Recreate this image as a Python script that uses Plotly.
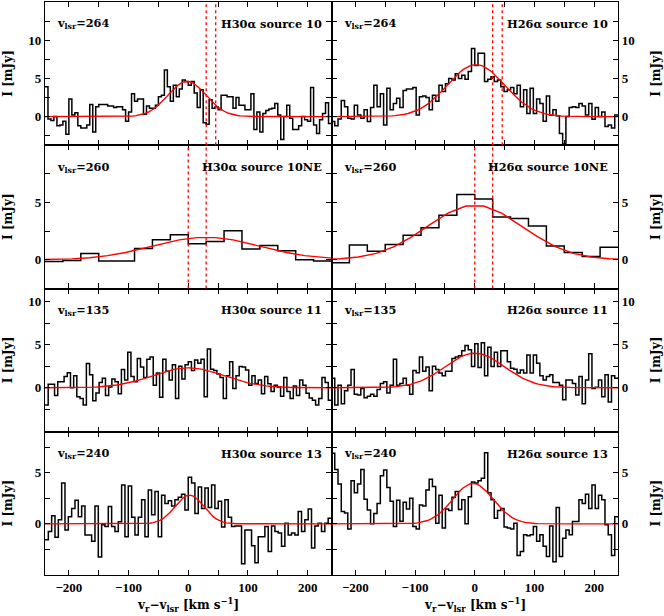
import numpy as np
import plotly.graph_objects as go
from plotly.subplots import make_subplots

V_RANGE = [-240, 240]

# ---- spectra (mJy), channels evenly spaced across -240..240 km/s ----
h30_src10 = [3.9, -0.3, -0.5, 0.0, -1.2, -1.1, -0.6, -2.3, 2.3, 0.2, 0.5, -1.2, -1.5, -1.5, -1.1, 1.6,
             -2.0, 1.3, 1.6, 1.6, 1.6, 1.4, 1.4, 1.2, 1.3, 1.3, 0.9, -0.6, 0.6, 3.0, 2.0, 2.3, 2.3, 0.3,
             1.4, 1.1, 1.1, 1.5, 2.6, 2.8, 6.1, 3.9, 2.0, 4.1, 2.6, 3.6, 4.8, 4.6, 4.1, 4.6, 3.1, 1.2,
             3.5, -0.8, -1.0, 2.2, 1.1, 1.3, 0.9, 2.8, 2.8, 2.6, 2.6, 1.1, 2.5, 1.5, 1.5, 0.9, 0.9, 3.0,
             -1.7, 0.6, -2.0, 0.4, 0.8, 1.0, 1.1, 1.7, 0.2, -3.0, 0.0, 1.5, -0.2, -1.7, -1.7, -1.2, 0.0,
             -0.4, -0.6, 3.8, -1.1, -2.2, -0.4, 0.4, 1.8, -0.9]
h26_src10 = [-0.65, -1.2, -0.3, 2.1, 1.3, -0.2, -0.3, 1.5, 0.2, -0.2, 0.9, -0.65, 1.2, 4.1, 1.3, 3.0,
             -1.1, 3.7, 0.9, 1.7, 2.4, 1.2, 3.4, 3.6, 3.6, 3.8, 0.2, 2.6, 2.7, 2.5, 0.9, 2.8, 2.0, 4.1,
             3.3, 4.3, 5.0, 4.8, 5.6, 5.0, 5.4, 4.9, 5.9, 8.9, 6.7, 8.3, 8.3, 4.6, 4.9, 5.2, 4.6, 4.8,
             3.9, 3.3, 3.5, 3.8, 3.0, 4.1, 1.3, 3.5, 0.4, 3.7, 0.4, 2.3, 1.7, -0.6, 2.7, 0.2, 0.9, 0.1,
             -2.2, -3.6, 0.0, 1.2, 1.3, 1.2, 1.7, 1.4, 0.2, 1.7, -0.35, 1.2, 0.0, 0.6, -1.3, -1.1, -1.5, 0.2]
h30_src10ne = [-0.15, -0.05, 0.55, -0.1, -0.1, 1.0, 1.75, 2.2, 1.4, 1.6, 2.55, 0.95, 1.25, 0.8, 0.0, -0.1]
h26_src10ne = [-0.25, 1.3, 0.75, 1.35, 2.15, 2.8, 3.9, 5.7, 5.3, 3.75, 3.6, 2.95, 1.2, 0.65, 0.3, 1.1]
h30_src11 = [-2.0, 0.4, 0.4, -0.9, 0.7, 0.7, 1.3, 1.75, 0.0, 1.4, -1.05, -1.25, -2.0, 2.8, 1.5, -1.5,
             -0.6, 0.6, 1.1, -0.9, 0.1, 1.0, 0.7, -0.7, 2.1, 0.9, 4.1, 1.3, 0.7, 3.4, 2.4, 1.2, 3.3,
             3.55, 0.3, 1.7, -1.1, 3.3, 1.9, 0.9, 2.65, -1.25, 2.5, 1.0, 2.65, 3.0, 2.0, 3.2, 2.85, 3.3,
             -1.05, 4.5, 2.15, 2.0, 1.6, 1.2, -1.25, 1.4, 3.0, -0.1, 1.4, 2.45, 2.4, 2.05, 0.3, 1.4, 0.5,
             0.9, -0.7, 1.3, 0.45, -0.45, 0.3, 0.05, -1.0, 1.2, -0.45, -1.25, 0.2, -0.9, 0.9, 0.3, -0.65,
             -1.2, -1.45, -2.0, -1.25, 1.2, 0.6, -1.45]
h26_src11 = [1.1, -2.0, 0.3, -1.85, -0.35, 0.3, 2.1, -0.75, -0.85, -0.1, -1.15, -1.0, -0.75, -1.0, -0.2,
             0.5, 0.7, -0.6, 0.3, 3.3, 0.3, 0.5, 1.1, 0.3, -0.75, 2.0, 1.75, 3.55, 1.9, 2.4, -0.35, 2.5,
             2.1, 1.7, 1.4, 1.9, 1.9, 3.4, 3.55, 3.7, 4.3, 4.9, 4.4, 2.45, 5.1, 2.35, 5.2, 1.4, 4.7, 2.45,
             4.1, 2.45, 4.3, 4.3, 3.0, 2.25, 2.15, 1.7, 2.05, 1.7, 3.8, 1.7, 3.8, 2.85, 1.4, 0.9, 1.3, 1.5,
             0.6, 0.6, 0.3, -1.4, 0.9, 0.9, 0.5, -0.85, 1.3, -1.85, 0.9, 3.95, -0.1, 0.05, 0.9, -1.05, 1.5,
             -1.65, 1.4, 1.1]
h30_src13 = [-1.55, -0.75, 0.8, -1.3, 0.4, 4.0, -0.6, 0.7, 1.5, 2.3, 0.7, 1.75, -1.1, -1.1, -1.7, 1.75,
             -3.25, -0.1, -0.25, 1.7, -0.25, -0.75, 0.2, 3.8, -1.25, 3.7, 0.65, -1.1, 0.65, 2.35, -1.25,
             3.3, 0.9, 3.15, -1.25, 2.8, 2.0, 2.25, 1.75, 2.35, 2.6, 2.9, 1.35, 4.55, 4.0, 1.0, 3.6, 1.5,
             3.5, 1.6, 3.8, 1.5, 2.2, -0.3, 2.35, 0.65, -0.25, -0.2, -0.2, -3.9, -0.6, -0.6, -2.15, -3.8,
             -1.25, -1.25, -0.25, -2.7, -0.2, -0.75, -0.9, -2.2, 0.05, -1.1, -0.9, -1.1, 1.2, -0.75, 0.4,
             1.45, -2.35, -0.2, 0.05, -0.75, 0.05, 0.55]
h26_src13 = [6.9, 5.3, 3.9, 1.2, 1.05, -0.5, 4.2, 3.05, 3.9, 5.3, 2.4, 1.35, 0.0, 1.0, 2.0, 4.7, 5.25,
             3.55, 2.2, -0.25, 2.3, 0.25, 2.1, 1.45, 2.5, -0.25, -0.5, 1.85, 1.75, 3.3, 4.35, 3.65, 0.05,
             2.8, -0.4, 1.45, 1.3, 2.6, 3.15, 1.4, 2.35, 0.0, 2.65, 4.1, 4.0, 4.2, 4.45, 6.95, 3.05, 2.35,
             0.55, 1.3, 1.5, -0.3, -0.4, -0.5, 0.05, -3.1, -2.7, -1.07, -1.17, -1.07, -0.25, -1.7, -1.07,
             -2.2, -3.2, -0.2, -3.7, 1.6, -3.2, -1.4, -0.6, -1.07, 0.23, 0.23, 2.35, 2.0, 2.9, 1.5, 3.8,
             1.5, 2.8, 2.35, -0.1, -1.07, -3.1, 0.7]

# ---- Gaussian fits: (peak mJy, centre km/s, sigma km/s) ----
fit_h30_src10 = (4.6, -2, 32)
fit_h26_src10 = (6.8, 2, 48)
fit_h30_src10ne = (1.97, 30, 90)
fit_h26_src10ne = (4.78, 0, 80)
fit_h30_src11 = (2.3, 0, 60)
fit_h26_src11 = (4.0, 0, 50)
fit_h30_src13 = (2.8, 2, 24)
fit_h26_src13 = (3.95, -3, 34)

sources = ["10", "10NE", "11", "13"]
vlsr = [264, 260, 135, 240]
lines = ["H30&#945;", "H26&#945;"]
marker_vel = [[30, 46], [0, 30], [], []]

spectra = [[h30_src10, h26_src10], [h30_src10ne, h26_src10ne],
           [h30_src11, h26_src11], [h30_src13, h26_src13]]
fits = [[fit_h30_src10, fit_h26_src10], [fit_h30_src10ne, fit_h26_src10ne],
        [fit_h30_src11, fit_h26_src11], [fit_h30_src13, fit_h26_src13]]

y_ranges = [[-3.75, 15], [-2.5, 10], [-5.1, 11.5], [-5, 9]]
y_labels = [[0, 5, 10], [0, 5], [0, 5, 10], [0, 5]]
x_ticks = [-200, -100, 0, 100, 200]
x_labels = ["\u2212200", "\u2212100", "0", "100", "200"]

TXT = dict(family="DejaVu Serif", size=12, color="black", weight="bold")
LBL = dict(family="DejaVu Serif", size=11.3, color="black", weight="bold")
TICK = dict(family="Liberation Serif", size=13, color="black", weight="bold")
fig = make_subplots(rows=4, cols=2, horizontal_spacing=0, vertical_spacing=0)

for r in range(4):
    for c in range(2):
        vals = spectra[r][c]
        n = len(vals)
        edges = np.linspace(V_RANGE[0], V_RANGE[1], n + 1)
        xs = list(edges)
        ys = list(vals) + [vals[-1]]
        fig.add_trace(go.Scatter(x=xs, y=ys, mode="lines", line=dict(color="black", width=1.5, shape="hv"),
                                 hoverinfo="skip"), row=r + 1, col=c + 1)
        w = edges[1] - edges[0]
        centres = np.concatenate([[edges[0] - w / 2], (edges[:-1] + edges[1:]) / 2, [edges[-1] + w / 2]])
        a, mu, sg = fits[r][c]
        model = a * np.exp(-(centres - mu) ** 2 / (2 * sg ** 2))
        fig.add_trace(go.Scatter(x=centres, y=model, mode="lines", line=dict(color="#ff0000", width=1.4),
                                 hoverinfo="skip"), row=r + 1, col=c + 1)
        k = r * 2 + c + 1
        xr = "x" if k == 1 else f"x{k}"
        yr = "y" if k == 1 else f"y{k}"
        for mv in marker_vel[r]:
            fig.add_shape(type="line", x0=mv, x1=mv, y0=0, y1=1, xref=xr, yref=f"{yr} domain",
                          line=dict(color="#ff0000", width=1.3, dash="3px,3px"))
        fig.add_annotation(text=f"v<sub>lsr</sub>={vlsr[r]}", xref=f"{xr} domain", yref=f"{yr} domain",
                           x=0.035, y=1 - 22 / 143.3, xanchor="left", yanchor="middle", showarrow=False,
                           font=LBL)
        fig.add_annotation(text=f"{lines[c]} source {sources[r]}", xref=f"{xr} domain", yref=f"{yr} domain",
                           x=1 - 8 / 286.5, y=1 - 22 / 143.3, xanchor="right", yanchor="middle",
                           showarrow=False, font=LBL)
        fig.add_annotation(text="I [mJy]", xref="paper", yref=f"{yr} domain",
                           x=(8 - 45) / 573 if c == 0 else (656 - 45) / 573, y=0.5,
                           xanchor="center", yanchor="middle", textangle=-90, showarrow=False,
                           font=TXT)
        fig.update_xaxes(range=V_RANGE, tickvals=x_ticks, ticktext=x_labels,
                         showticklabels=(r == 3), ticks="inside", ticklen=5, tickwidth=1.3, tickcolor="black",
                         minor=dict(dtick=50, tick0=0, ticks="inside", ticklen=5, tickwidth=1.3, tickcolor="black"),
                         showline=True, linecolor="black", linewidth=1.4, mirror="allticks",
                         showgrid=False, zeroline=False, tickfont=TICK,
                         row=r + 1, col=c + 1)
        fig.update_yaxes(range=y_ranges[r], tickvals=y_labels[r], ticktext=[str(v) for v in y_labels[r]],
                         side="left" if c == 0 else "right", ticks="inside", ticklen=5, tickwidth=1.3,
                         tickcolor="black",
                         minor=dict(dtick=2.5, tick0=0, ticks="inside", ticklen=5, tickwidth=1.3, tickcolor="black"),
                         showline=True, linecolor="black", linewidth=1.4, mirror="allticks",
                         showgrid=False, zeroline=False, tickfont=TICK,
                         row=r + 1, col=c + 1)

for c in range(2):
    k = 6 + c + 1
    fig.add_annotation(text="v<sub>r</sub>\u2212v<sub>lsr</sub> [km s<sup>\u22121</sup>]",
                       xref=f"x{k} domain", yref="paper", x=0.5, y=-30 / 573,
                       xanchor="center", yanchor="middle", showarrow=False, font=TXT)

fig.update_layout(width=664, height=616, margin=dict(l=45, r=46, t=2, b=41),
                  plot_bgcolor="white", paper_bgcolor="white", showlegend=False,
                  font=TXT)
fig.write_html("out.html", config={"displayModeBar": False},
               post_script="document.body.style.margin='0px';")
